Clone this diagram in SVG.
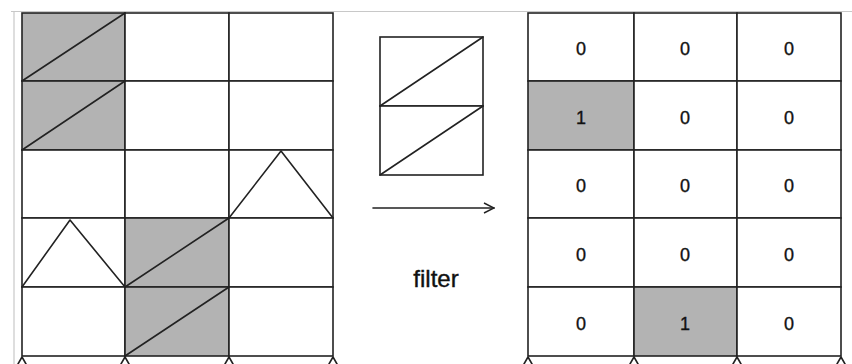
<svg xmlns="http://www.w3.org/2000/svg" width="852" height="364" viewBox="0 0 852 364">
  <style>
    .bg { fill: #ffffff; }
    .cell { fill: #ffffff; stroke: #222222; stroke-width: 1.6; }
    .shade { fill: #b3b3b3; stroke: #222222; stroke-width: 1.6; }
    .ln { stroke: #222222; stroke-width: 1.6; fill: none; stroke-linecap: round; stroke-linejoin: round; }
    .frame { stroke: #c8c8c8; stroke-width: 1.2; fill: none; }
    .num { font-family: "Liberation Sans", Arial, sans-serif; font-size: 18px; fill: #111111; stroke: #111111; stroke-width: 0.35; text-anchor: middle; }
    .lbl { font-family: "Liberation Sans", Arial, sans-serif; font-size: 24px; fill: #111111; stroke: #111111; stroke-width: 0.4; text-anchor: middle; }
  </style>
  <defs>
    <marker id="open-arrow" viewBox="0 0 12 12" refX="11" refY="6" markerWidth="12" markerHeight="12" markerUnits="userSpaceOnUse" orient="auto">
      <path d="M1,1 L11,6 L1,11" fill="none" stroke="#222222" stroke-width="1.4"/>
    </marker>
  </defs>
  <rect class="bg" x="0" y="0" width="852" height="364"/>
  <!-- faint page frame -->
  <path class="frame" d="M11,11.5 H852 M14,11.5 V364"/>

  <!-- input grid: 5 rows x 3 cols -->
  <g id="input-grid">
    <rect class="shade" x="22" y="13" width="103" height="68"/>
    <rect class="cell" x="125" y="13" width="104" height="68"/>
    <rect class="cell" x="229" y="13" width="104" height="68"/>
    <rect class="shade" x="22" y="81" width="103" height="69"/>
    <rect class="cell" x="125" y="81" width="104" height="69"/>
    <rect class="cell" x="229" y="81" width="104" height="69"/>
    <rect class="cell" x="22" y="150" width="103" height="68"/>
    <rect class="cell" x="125" y="150" width="104" height="68"/>
    <rect class="cell" x="229" y="150" width="104" height="68"/>
    <rect class="cell" x="22" y="218" width="103" height="69"/>
    <rect class="shade" x="125" y="218" width="104" height="69"/>
    <rect class="cell" x="229" y="218" width="104" height="69"/>
    <rect class="cell" x="22" y="287" width="103" height="69"/>
    <rect class="shade" x="125" y="287" width="104" height="69"/>
    <rect class="cell" x="229" y="287" width="104" height="69"/>
    <!-- strokes inside cells -->
    <path class="ln" d="M22,81 L125,13 M22,150 L125,81 M125,287 L229,218 M125,356 L229,287"/>
    <path class="ln" d="M229,218 L281,151 L333,218 M22,287 L70,220 L125,287"/>
    <!-- next row edges peeking out below -->
    <path class="ln" d="M18,364 L22,357 L26,364 M121,364 L125,357 L129,364 M225,364 L229,357 L233,364 M329,364 L333,357 L337,364"/>
  </g>

  <!-- filter kernel -->
  <g id="filter-kernel">
    <rect class="cell" x="380" y="37" width="103" height="69"/>
    <rect class="cell" x="380" y="106" width="103" height="69"/>
    <path class="ln" d="M380,106 L483,37 M380,175 L483,106"/>
  </g>

  <g id="connectors">
    <line class="ln" x1="373" y1="208" x2="494" y2="208" marker-end="url(#open-arrow)"/>
  </g>
  <g id="filter-label">
    <text class="lbl" x="436" y="287">filter</text>
  </g>

  <!-- output map -->
  <g id="output-grid">
    <rect class="cell" x="528" y="13" width="106" height="68"/>
    <rect class="cell" x="634" y="13" width="103" height="68"/>
    <rect class="cell" x="737" y="13" width="104" height="68"/>
    <rect class="shade" x="528" y="81" width="106" height="69"/>
    <rect class="cell" x="634" y="81" width="103" height="69"/>
    <rect class="cell" x="737" y="81" width="104" height="69"/>
    <rect class="cell" x="528" y="150" width="106" height="68"/>
    <rect class="cell" x="634" y="150" width="103" height="68"/>
    <rect class="cell" x="737" y="150" width="104" height="68"/>
    <rect class="cell" x="528" y="218" width="106" height="69"/>
    <rect class="cell" x="634" y="218" width="103" height="69"/>
    <rect class="cell" x="737" y="218" width="104" height="69"/>
    <rect class="cell" x="528" y="287" width="106" height="69"/>
    <rect class="shade" x="634" y="287" width="103" height="69"/>
    <rect class="cell" x="737" y="287" width="104" height="69"/>
    <text class="num" x="581" y="55">0</text>
    <text class="num" x="685" y="55">0</text>
    <text class="num" x="789" y="55">0</text>
    <text class="num" x="581" y="124">1</text>
    <text class="num" x="685" y="124">0</text>
    <text class="num" x="789" y="124">0</text>
    <text class="num" x="581" y="192">0</text>
    <text class="num" x="685" y="192">0</text>
    <text class="num" x="789" y="192">0</text>
    <text class="num" x="581" y="261">0</text>
    <text class="num" x="685" y="261">0</text>
    <text class="num" x="789" y="261">0</text>
    <text class="num" x="581" y="330">0</text>
    <text class="num" x="685" y="330">1</text>
    <text class="num" x="789" y="330">0</text>
    <path class="ln" d="M524,364 L528,357 L532,364 M630,364 L634,357 L638,364 M733,364 L737,357 L741,364 M837,364 L841,357 L845,364"/>
  </g>
</svg>
